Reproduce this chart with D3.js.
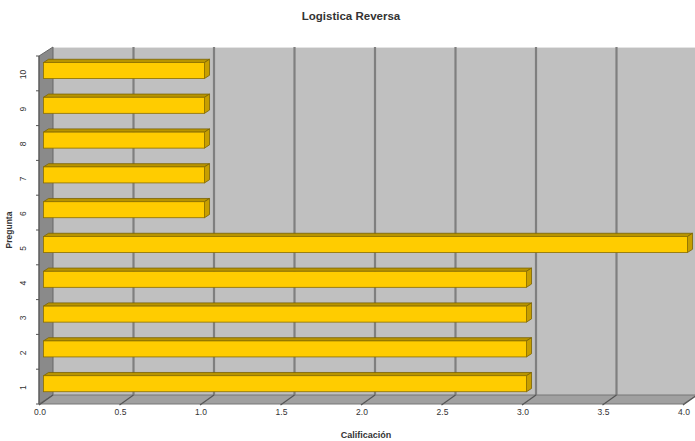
<!DOCTYPE html>
<html>
<head>
<meta charset="utf-8">
<script src="https://cdn.jsdelivr.net/npm/d3@7"></script>
<style>
  html, body { margin: 0; padding: 0; background: #ffffff; }
  svg { display: block; font-family: Arial, "Liberation Sans", sans-serif; }
</style>
</head>
<body>
<svg id="chart" width="695" height="441"></svg>
<script>
// Question numbers (bottom to top) and their scores
const preguntas = ["1", "2", "3", "4", "5", "6", "7", "8", "9", "10"];
const calificacion = [3.0, 3.0, 3.0, 3.0, 4.0, 1.0, 1.0, 1.0, 1.0, 1.0];
const xTicks = [0.0, 0.5, 1.0, 1.5, 2.0, 2.5, 3.0, 3.5, 4.0];

const titulo = "Logistica Reversa";
const ejeX = "Calificación";
const ejeY = "Pregunta";

const svg = d3.select("#chart");

// Front plane of the 3-D box, plus the depth vector towards the back wall
const front = { left: 39, right: 683, top: 56, bottom: 404 };
const depth = { dx: 14, dy: -9 };
// Bars sit between these fractions of the box depth
const barFront = 0.32, barBack = 0.68;

const x = d3.scaleLinear().domain([0, 4]).range([front.left, front.right]);
const y = d3.scaleBand()
  .domain(preguntas.slice().reverse())
  .range([front.top, front.bottom])
  .paddingInner(0.54)
  .paddingOuter(0.27);

const off = t => [depth.dx * t, depth.dy * t];
const pts = arr => arr.map(p => p.join(",")).join(" ");

// Back wall
const bx0 = x(0) + depth.dx, bx1 = x(4) + depth.dx;
const by0 = front.top + depth.dy, by1 = front.bottom + depth.dy;
svg.append("rect")
  .attr("x", bx0).attr("y", by0)
  .attr("width", bx1 - bx0).attr("height", by1 - by0)
  .attr("fill", "#c0c0c0");
svg.append("line")
  .attr("x1", bx0).attr("x2", bx1).attr("y1", by0 + 0.5).attr("y2", by0 + 0.5)
  .attr("stroke", "#e4e4e4").attr("stroke-width", 1);

// Vertical gridlines on the back wall
svg.append("g").selectAll("line")
  .data(xTicks.slice(1))
  .join("line")
  .attr("x1", d => x(d) + depth.dx).attr("x2", d => x(d) + depth.dx)
  .attr("y1", by0).attr("y2", by1)
  .attr("stroke", "#7f7f7f").attr("stroke-width", 2.2);

// Left side wall
svg.append("polygon")
  .attr("points", pts([
    [x(0), front.top], [bx0, by0], [bx0, by1], [x(0), front.bottom]
  ]))
  .attr("fill", "#8a8a8a")
  .attr("stroke", "#666666").attr("stroke-width", 1);

// Floor
svg.append("polygon")
  .attr("points", pts([
    [x(0), front.bottom], [x(4), front.bottom], [bx1, by1], [bx0, by1]
  ]))
  .attr("fill", "#a0a0a0")
  .attr("stroke", "#777777").attr("stroke-width", 1);

// Floor gridlines running from each tick to the back wall
svg.append("g").selectAll("line")
  .data(xTicks)
  .join("line")
  .attr("x1", d => x(d)).attr("y1", front.bottom + 1)
  .attr("x2", d => x(d) + depth.dx).attr("y2", by1)
  .attr("stroke", "#555555").attr("stroke-width", 1.2);

// Y axis ticks on the front left edge, at band boundaries
const bounds = d3.range(preguntas.length + 1).map(i => front.top + i * (front.bottom - front.top) / preguntas.length);
svg.append("g").selectAll("line")
  .data(bounds)
  .join("line")
  .attr("x1", x(0) - 3).attr("x2", x(0))
  .attr("y1", d => d).attr("y2", d => d)
  .attr("stroke", "#555555").attr("stroke-width", 1);
svg.append("line")
  .attr("x1", x(0)).attr("x2", x(0))
  .attr("y1", front.top).attr("y2", front.bottom)
  .attr("stroke", "#555555").attr("stroke-width", 1);

// 3-D bars
const data = preguntas.map((p, i) => ({ p, v: calificacion[i] }));
const [fx, fy] = off(barFront);
const [kx, ky] = off(barBack);
const bars = svg.append("g").selectAll("g")
  .data(data.slice().reverse())
  .join("g");

bars.append("polygon") // top face
  .attr("points", d => {
    const x0 = x(0), x1 = x(d.v), yt = y(d.p);
    return pts([[x0 + fx, yt + fy], [x1 + fx, yt + fy], [x1 + kx, yt + ky], [x0 + kx, yt + ky]]);
  })
  .attr("fill", "#b89400").attr("stroke", "#7a6200").attr("stroke-width", 0.8);

bars.append("polygon") // right end face
  .attr("points", d => {
    const x1 = x(d.v), yt = y(d.p), yb = yt + y.bandwidth();
    return pts([[x1 + fx, yt + fy], [x1 + kx, yt + ky], [x1 + kx, yb + ky], [x1 + fx, yb + fy]]);
  })
  .attr("fill", "#c79f00").attr("stroke", "#7a6200").attr("stroke-width", 0.8);

bars.append("rect") // front face
  .attr("x", x(0) + fx)
  .attr("y", d => y(d.p) + fy)
  .attr("width", d => x(d.v) - x(0))
  .attr("height", y.bandwidth())
  .attr("fill", "#ffcc00").attr("stroke", "#8a6e00").attr("stroke-width", 0.8);

// X tick labels
svg.append("g").selectAll("text")
  .data(xTicks)
  .join("text")
  .attr("x", d => x(d) + 1)
  .attr("y", front.bottom + 11)
  .attr("text-anchor", "middle")
  .attr("font-size", 8.5)
  .attr("fill", "#333333")
  .text(d => d.toFixed(1));

// Y tick labels, rotated
svg.append("g").selectAll("text")
  .data(preguntas)
  .join("text")
  .attr("transform", d => `translate(${x(0) - 13},${y(d) + y.bandwidth() / 2 + 1}) rotate(-90)`)
  .attr("text-anchor", "middle")
  .attr("font-size", 8.5)
  .attr("fill", "#333333")
  .text(d => d);

// Titles
svg.append("text")
  .attr("x", 351).attr("y", 20)
  .attr("text-anchor", "middle")
  .attr("font-size", 11.5).attr("font-weight", "bold")
  .attr("fill", "#333333")
  .text(titulo);

svg.append("text")
  .attr("x", 366).attr("y", 438)
  .attr("text-anchor", "middle")
  .attr("font-size", 9).attr("font-weight", "bold")
  .attr("fill", "#333333")
  .text(ejeX);

svg.append("text")
  .attr("transform", `translate(12,${(front.top + front.bottom) / 2}) rotate(-90)`)
  .attr("text-anchor", "middle")
  .attr("font-size", 8.5).attr("font-weight", "bold")
  .attr("fill", "#333333")
  .text(ejeY);
</script>
</body>
</html>
